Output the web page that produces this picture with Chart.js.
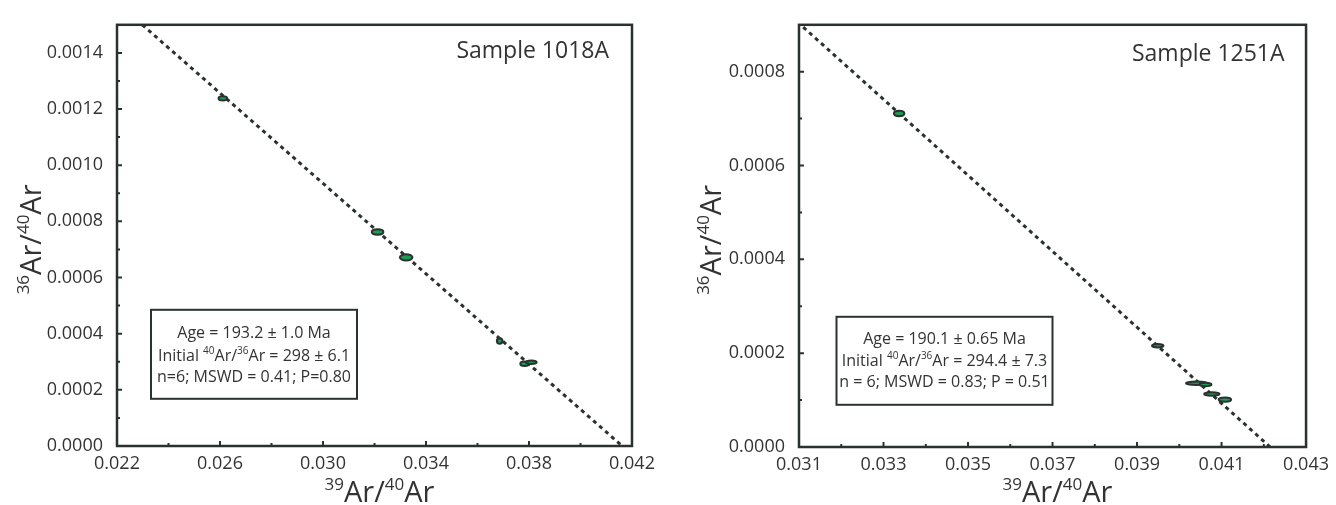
<!DOCTYPE html>
<html>
<head>
<meta charset="utf-8">
<script src="https://cdn.jsdelivr.net/npm/chart.js@4.4.1/dist/chart.umd.min.js"></script>
<style>
  html, body { margin: 0; padding: 0; background: #fff; }
  #wrap { position: relative; width: 1336px; height: 505px; }
  canvas { position: absolute; top: 0; }
  #c1 { left: 0; }
  #c2 { left: 668px; }
</style>
</head>
<body>
<div id="wrap">
  <canvas id="c1" width="668" height="505"></canvas>
  <canvas id="c2" width="668" height="505"></canvas>
</div>
<script>
// ---- Sample 1018A ----
const a_name = "Sample 1018A";
const a_x  = [0.02611, 0.03212, 0.03323, 0.03686, 0.03783, 0.03809];
const a_y  = [0.001238, 0.000762, 0.000672, 0.000374, 0.000293, 0.000298];
const a_ex = [0.000167, 0.000225, 0.000245, 0.000108, 0.000167, 0.000206];
const a_ey = [0.0000078, 0.0000096, 0.0000113, 0.0000096, 0.0000078, 0.0000061];
const a_lineX = [0.02298, 0.04162];
const a_lineY = [0.0015, 0];
const a_xTicks = [0.022, 0.026, 0.030, 0.034, 0.038, 0.042];
const a_xLabels = ["0.022", "0.026", "0.030", "0.034", "0.038", "0.042"];
const a_xMinor = [0.024, 0.028, 0.032, 0.036, 0.040];
const a_yTicks = [0, 0.0002, 0.0004, 0.0006, 0.0008, 0.0010, 0.0012, 0.0014];
const a_yLabels = ["0.0000", "0.0002", "0.0004", "0.0006", "0.0008", "0.0010", "0.0012", "0.0014"];
const a_yMinor = [0.0001, 0.0003, 0.0005, 0.0007, 0.0009, 0.0011, 0.0013];
const a_box = [
  [["Age = 193.2 \u00b1 1.0 Ma", 0]],
  [["Initial ", 0], ["40", 1], ["Ar/", 0], ["36", 1], ["Ar = 298 \u00b1 6.1", 0]],
  [["n=6; MSWD = 0.41; P=0.80", 0]]
];

// ---- Sample 1251A ----
const b_name = "Sample 1251A";
const b_x  = [0.03337, 0.03949, 0.04041, 0.04062, 0.04077, 0.04108];
const b_y  = [0.000711, 0.000216, 0.000136, 0.000133, 0.000113, 0.000101];
const b_ex = [0.000123, 0.000135, 0.000252, 0.000141, 0.000182, 0.000147];
const b_ey = [0.0000057, 0.0000037, 0.0000037, 0.0000037, 0.0000037, 0.0000047];
const b_lineX = [0.0311, 0.04215];
const b_lineY = [0.000895, 0];
const b_xTicks = [0.031, 0.033, 0.035, 0.037, 0.039, 0.041, 0.043];
const b_xLabels = ["0.031", "0.033", "0.035", "0.037", "0.039", "0.041", "0.043"];
const b_xMinor = [0.032, 0.034, 0.036, 0.038, 0.040, 0.042];
const b_yTicks = [0, 0.0002, 0.0004, 0.0006, 0.0008];
const b_yLabels = ["0.0000", "0.0002", "0.0004", "0.0006", "0.0008"];
const b_yMinor = [0.0001, 0.0003, 0.0005, 0.0007];
const b_box = [
  [["Age = 190.1 \u00b1 0.65 Ma", 0]],
  [["Initial ", 0], ["40", 1], ["Ar/", 0], ["36", 1], ["Ar = 294.4 \u00b1 7.3", 0]],
  [["n = 6; MSWD = 0.83; P = 0.51", 0]]
];

const xTitle = [["39", 1], ["Ar/", 0], ["40", 1], ["Ar", 0]];
const yTitle = [["36", 1], ["Ar/", 0], ["40", 1], ["Ar", 0]];

const INK = "#2b3131";
const GREEN = "#1f9a50";
const FONT = "'Open Sans', 'Noto Sans', sans-serif";

// text with superscript parts
function drawRich(ctx, parts, x, y, size, supSize, rise, align) {
  let w = 0;
  parts.forEach(p => {
    ctx.font = (p[1] ? supSize : size) + "px " + FONT;
    w += ctx.measureText(p[0]).width;
  });
  let cx = align === "center" ? x - w / 2 : (align === "right" ? x - w : x);
  ctx.textAlign = "left";
  parts.forEach(p => {
    ctx.font = (p[1] ? supSize : size) + "px " + FONT;
    ctx.fillText(p[0], cx, p[1] ? y - rise : y);
    cx += ctx.measureText(p[0]).width;
  });
}

function isoPlugin(p) {
  return {
    id: "iso",
    afterDatasetsDraw(chart) {
      const ctx = chart.ctx, a = chart.chartArea;
      const xs = chart.scales.x, ys = chart.scales.y;
      ctx.save();

      // error ellipses
      const meta = chart.getDatasetMeta(1);
      meta.data.forEach((pt, i) => {
        const rx = Math.abs(xs.getPixelForValue(p.x[i] + p.ex[i]) - pt.x);
        const ry = Math.abs(ys.getPixelForValue(p.y[i] + p.ey[i]) - pt.y);
        ctx.beginPath();
        ctx.ellipse(pt.x, pt.y, rx, ry, 0, 0, Math.PI * 2);
        ctx.fillStyle = GREEN;
        ctx.fill();
        ctx.lineWidth = 2;
        ctx.strokeStyle = INK;
        ctx.stroke();
      });

      // frame
      ctx.lineWidth = 2.5;
      ctx.strokeStyle = INK;
      ctx.strokeRect(a.left, a.top, a.right - a.left, a.bottom - a.top);

      // inward ticks, bottom and left only
      ctx.lineWidth = 2;
      ctx.beginPath();
      p.xTicks.forEach(v => { const px = xs.getPixelForValue(v); ctx.moveTo(px, a.bottom); ctx.lineTo(px, a.bottom - 5); });
      p.xMinor.forEach(v => { const px = xs.getPixelForValue(v); ctx.moveTo(px, a.bottom); ctx.lineTo(px, a.bottom - 3); });
      p.yTicks.forEach(v => { const py = ys.getPixelForValue(v); ctx.moveTo(a.left, py); ctx.lineTo(a.left + 5, py); });
      p.yMinor.forEach(v => { const py = ys.getPixelForValue(v); ctx.moveTo(a.left, py); ctx.lineTo(a.left + 3, py); });
      ctx.stroke();

      // sample name
      ctx.fillStyle = "#333";
      ctx.textBaseline = "middle";
      ctx.textAlign = "right";
      ctx.font = "23px " + FONT;
      ctx.fillText(p.name, a.right - p.nameOff[0], a.top + p.nameOff[1]);

      // stats box
      const b = p.boxPos;
      ctx.lineWidth = 2;
      ctx.strokeStyle = INK;
      ctx.strokeRect(a.left + b[0], a.top + b[1], b[2], b[3]);
      p.box.forEach((line, i) => {
        drawRich(ctx, line, a.left + b[0] + b[2] / 2, a.top + p.lineY[i], 16, 10, 5, "center");
      });

      // axis titles
      ctx.textBaseline = "alphabetic";
      drawRich(ctx, xTitle, (a.left + a.right) / 2 + 5, 502, 29, 17, 12, "center");
      ctx.save();
      ctx.translate(p.yTitleX, (a.top + a.bottom) / 2 + 4);
      ctx.rotate(-Math.PI / 2);
      drawRich(ctx, yTitle, 0, 0, 29, 17, 12, "center");
      ctx.restore();

      ctx.restore();
    }
  };
}

function makePanel(id, p) {
  return new Chart(document.getElementById(id), {
    type: "scatter",
    data: {
      datasets: [
        {
          data: p.lineX.map((v, i) => ({ x: v, y: p.lineYv[i] })),
          showLine: true,
          borderColor: INK,
          borderWidth: 3,
          borderDash: [4, 4],
          pointRadius: 0
        },
        {
          data: p.x.map((v, i) => ({ x: v, y: p.y[i] })),
          pointRadius: 0,
          showLine: false
        }
      ]
    },
    options: {
      responsive: false,
      animation: false,
      events: [],
      layout: { padding: p.pad },
      plugins: { legend: { display: false }, tooltip: { enabled: false } },
      scales: {
        x: {
          type: "linear", min: p.xMin, max: p.xMax,
          grid: { display: false, drawTicks: false },
          border: { display: false },
          afterBuildTicks: s => { s.ticks = p.xTicks.map(v => ({ value: v })); },
          afterFit: s => { s.height = p.xHeight; },
          ticks: {
            callback: (v, i) => p.xLabels[i],
            color: "#333", font: { family: FONT, size: 18 },
            padding: 7, maxRotation: 0, autoSkip: false
          }
        },
        y: {
          type: "linear", min: p.yMin, max: p.yMax,
          grid: { display: false, drawTicks: false },
          border: { display: false },
          afterBuildTicks: s => { s.ticks = p.yTicks.map(v => ({ value: v })); },
          afterFit: s => { s.width = p.yWidth; },
          ticks: {
            callback: (v, i) => p.yLabels[i],
            color: "#333", font: { family: FONT, size: 18 },
            padding: 14, autoSkip: false
          }
        }
      }
    },
    plugins: [isoPlugin(p)]
  });
}

makePanel("c1", {
  name: a_name, x: a_x, y: a_y, ex: a_ex, ey: a_ey,
  lineX: a_lineX, lineYv: a_lineY,
  xMin: 0.022, xMax: 0.042, yMin: 0, yMax: 0.0015,
  xTicks: a_xTicks, xLabels: a_xLabels, xMinor: a_xMinor,
  yTicks: a_yTicks, yLabels: a_yLabels, yMinor: a_yMinor,
  box: a_box,
  pad: { left: 0, top: 16, right: 36, bottom: 0 }, yWidth: 117, xHeight: 59,
  nameOff: [23, 27], boxPos: [34, 285, 206, 89], lineY: [309, 331.5, 352.5],
  yTitleX: 41
});

makePanel("c2", {
  name: b_name, x: b_x, y: b_y, ex: b_ex, ey: b_ey,
  lineX: b_lineX, lineYv: b_lineY,
  xMin: 0.031, xMax: 0.043, yMin: 0, yMax: 0.0009,
  xTicks: b_xTicks, xLabels: b_xLabels, xMinor: b_xMinor,
  yTicks: b_yTicks, yLabels: b_yLabels, yMinor: b_yMinor,
  box: b_box,
  pad: { left: 0, top: 17, right: 26, bottom: 0 }, yWidth: 131, xHeight: 58,
  nameOff: [21.5, 29.5], boxPos: [37.5, 292, 216, 88], lineY: [314.5, 336.5, 358],
  yTitleX: 53
});
</script>
</body>
</html>
